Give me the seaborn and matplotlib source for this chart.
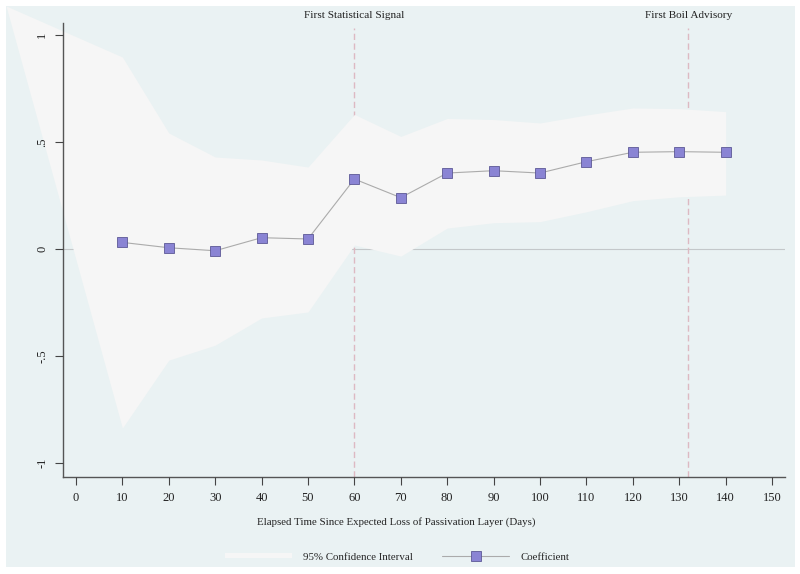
import numpy as np
import pandas as pd
import seaborn as sns
import matplotlib.pyplot as plt
from matplotlib.patches import Rectangle, Patch
from matplotlib.lines import Line2D

# coefficient estimates by elapsed days
days = [10, 20, 30, 40, 50, 60, 70, 80, 90, 100, 110, 120, 130, 140]
coef = [0.031, 0.006, -0.008, 0.053, 0.047, 0.327, 0.240, 0.355, 0.366, 0.355, 0.408, 0.452, 0.455, 0.452]

# 95% CI band (starts left of the axis, as in the source graph)
ci_days = [-15, 10, 20, 30, 40, 50, 60, 70, 80, 90, 100, 110, 120, 130, 140]
ci_low = [1.13, -0.836, -0.519, -0.449, -0.322, -0.294, 0.019, -0.033, 0.098, 0.123, 0.128, 0.174, 0.226, 0.244, 0.252]
ci_high = [1.135, 0.897, 0.542, 0.430, 0.416, 0.383, 0.629, 0.526, 0.610, 0.605, 0.589, 0.626, 0.659, 0.656, 0.642]

events = [60, 132]
event_labels = ["First Statistical Signal", "First Boil Advisory"]

xticks = list(range(0, 151, 10))
yticks = [-1, -0.5, 0, 0.5, 1]
ytick_labels = ["-1", "-.5", "0", ".5", "1"]

sns.set_style("ticks")
plt.rcParams['font.family'] = ['Liberation Serif', 'DejaVu Serif']

bg = "#EAF2F3"
band_col = "#F6F6F6"
fs = 7.8

fig = plt.figure(figsize=(8, 5.74), dpi=100, facecolor="white")
region = Rectangle((6 / 800, 1 - 567 / 574), 789 / 800, 561 / 574,
                   transform=fig.transFigure, facecolor=bg, edgecolor="none", zorder=-5)
fig.patches.append(region)

ax = fig.add_axes([63 / 800, 1 - 477 / 574, (785 - 63) / 800, (477 - 23) / 574])
ax.set_facecolor("none")
ax.set_axisbelow(False)

# reference lines sit under the CI band, as in the original
ax.axhline(0, color="#C4C8CA", lw=0.8, zorder=0.2)
for ev in events:
    ax.axvline(ev, ymin=0, ymax=0.99, color="#DDB9C2", lw=1, ls=(0, (4.5, 2.5)), zorder=0.2)

band = ax.fill_between(ci_days, ci_low, ci_high, color=band_col, lw=0, zorder=0.3)
band.set_clip_path(region)

df = pd.DataFrame({"days": days, "coef": coef})
sns.lineplot(data=df, x="days", y="coef", ax=ax, color="#ABABAB", lw=0.8,
             marker="s", markersize=7, markerfacecolor="#8A84D4",
             markeredgecolor="#5C5896", markeredgewidth=0.6, zorder=3)

ax.set_xlim(-2.8, 152.8)
ax.set_ylim(-1.065, 1.056)
ax.set_xticks(xticks)
ax.set_xticklabels([str(t) for t in xticks], fontsize=9)
ax.set_yticks(yticks)
ax.set_yticklabels(ytick_labels, rotation=90, va="center", fontsize=9)
ax.tick_params(axis="both", length=5.5, width=0.8, color="#444444", pad=5, labelcolor="#222222")
ax.set_xlabel("")
ax.set_ylabel("")
for s in ["top", "right"]:
    ax.spines[s].set_visible(False)
for s in ["left", "bottom"]:
    ax.spines[s].set_color("#555555")
    ax.spines[s].set_linewidth(1.0)

for ev, lab in zip(events, event_labels):
    ax.annotate(lab, xy=(ev, 1 - 16 / 574), xycoords=("data", "figure fraction"),
                ha="center", va="center", fontsize=8.1, color="#222222")

fig.text(396 / 800, 1 - 522 / 574,
         "Elapsed Time Since Expected Loss of Passivation Layer (Days)",
         ha="center", va="center", fontsize=fs, color="#222222")

handles = [Patch(facecolor=band_col, edgecolor="none"),
           Line2D([0], [0], color="#ABABAB", lw=0.8, marker="s", markersize=7,
                  markerfacecolor="#8A84D4", markeredgecolor="#5C5896", markeredgewidth=0.6)]
fig.legend(handles, ["95% Confidence Interval", "Coefficient"], loc="center",
           bbox_to_anchor=(397 / 800, 1 - 557 / 574), ncol=2, frameon=False,
           fontsize=fs, handlelength=6.2, handleheight=0.4, handletextpad=1.0,
           columnspacing=2.7)

fig.savefig("out.png", dpi=100, facecolor="white")
